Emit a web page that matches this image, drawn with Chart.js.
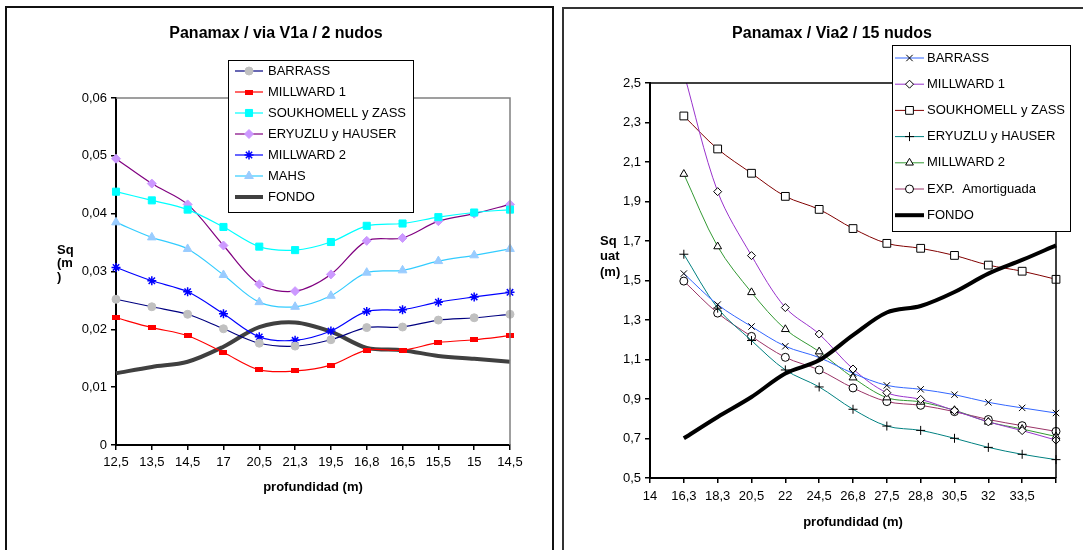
<!DOCTYPE html>
<html lang="es">
<head>
<meta charset="UTF-8">
<title>Panamax - squat</title>
<script src="https://cdn.jsdelivr.net/npm/chart.js"></script>
<style>
    body { margin: 0; background: #fff; width: 1083px; height: 550px; overflow: hidden; position: relative; }
    .panel { position: absolute; border: 2px solid #111; box-sizing: border-box; }
    #leftPanel { left: 5px; top: 6px; width: 549px; height: 600px; }
    #rightPanel { left: 562px; top: 7px; width: 600px; height: 600px; border-color: #333; }
    canvas { position: absolute; top: 0; }
    #leftChart { left: 0; }
    #rightChart { left: 560px; }
</style>
</head>
<body>
<div class="panel" id="leftPanel"></div>
<div class="panel" id="rightPanel"></div>
<canvas id="leftChart" width="556" height="550"></canvas>
<canvas id="rightChart" width="523" height="550"></canvas>

<script>
// ---- left chart: via V1a / 2 nudos ----
const leftLabels = ['12,5', '13,5', '14,5', '17', '20,5', '21,3', '19,5', '16,8', '16,5', '15,5', '15', '14,5'];
const leftYTicks = ['0', '0,01', '0,02', '0,03', '0,04', '0,05', '0,06'];
const lBarrass    = [0.0252, 0.0239, 0.0226, 0.0201, 0.0176, 0.0171, 0.0182, 0.0203, 0.0204, 0.0216, 0.0220, 0.0226];
const lMillward1  = [0.0220, 0.0203, 0.0189, 0.0160, 0.0130, 0.0128, 0.0138, 0.0164, 0.0164, 0.0177, 0.0182, 0.0189];
const lSoukhomell = [0.0438, 0.0423, 0.0407, 0.0377, 0.0343, 0.0337, 0.0351, 0.0379, 0.0383, 0.0394, 0.0402, 0.0407];
const lEryuzlu    = [0.0495, 0.0452, 0.0416, 0.0345, 0.0278, 0.0266, 0.0295, 0.0353, 0.0358, 0.0387, 0.0400, 0.0416];
const lMillward2  = [0.0307, 0.0284, 0.0265, 0.0227, 0.0187, 0.0181, 0.0197, 0.0231, 0.0234, 0.0247, 0.0256, 0.0264];
const lMahs       = [0.0385, 0.0359, 0.0339, 0.0294, 0.0247, 0.0239, 0.0258, 0.0298, 0.0302, 0.0318, 0.0328, 0.0339];
const lFondo      = [0.0124, 0.0135, 0.0144, 0.0170, 0.0204, 0.0212, 0.0196, 0.0168, 0.0164, 0.0154, 0.0149, 0.0144];

// ---- right chart: Via2 / 15 nudos ----
const rightLabels = ['14', '16,3', '18,3', '20,5', '22', '24,5', '26,8', '27,5', '28,8', '30,5', '32', '33,5', ''];
const rightYTicks = ['0,5', '0,7', '0,9', '1,1', '1,3', '1,5', '1,7', '1,9', '2,1', '2,3', '2,5'];
const rBarrass    = [null, 1.535, 1.378, 1.267, 1.167, 1.110, 1.030, 0.969, 0.949, 0.922, 0.883, 0.855, 0.829];
const rMillward1  = [null, 2.550, 1.950, 1.626, 1.363, 1.229, 1.052, 0.932, 0.898, 0.841, 0.784, 0.740, 0.692];
const rSoukhomell = [null, 2.333, 2.166, 2.043, 1.926, 1.860, 1.763, 1.688, 1.663, 1.627, 1.578, 1.547, 1.506];
const rEryuzlu    = [null, 1.633, 1.360, 1.196, 1.047, 0.961, 0.848, 0.763, 0.741, 0.701, 0.655, 0.620, 0.593];
const rMillward2  = [null, 2.039, 1.672, 1.440, 1.253, 1.140, 1.008, 0.907, 0.885, 0.843, 0.784, 0.748, 0.710];
const rExp        = [null, 1.497, 1.335, 1.217, 1.111, 1.047, 0.956, 0.887, 0.868, 0.836, 0.796, 0.765, 0.736];
const rFondo      = [null, 0.701, 0.809, 0.910, 1.029, 1.096, 1.223, 1.338, 1.371, 1.442, 1.535, 1.604, 1.678];

const FONT = '"Liberation Sans", Arial, sans-serif';

// small red bar used as marker for MILLWARD 1 (left chart)
const redBar = document.createElement('canvas');
redBar.width = 8; redBar.height = 5;
const rb = redBar.getContext('2d');
rb.fillStyle = '#ff0000';
rb.fillRect(0, 0, 8, 5);

function ds(label, data, color, width, style, radius, fill, border, extra) {
    return Object.assign({
        label: label,
        data: data,
        borderColor: color,
        borderWidth: width,
        pointStyle: style,
        pointRadius: radius,
        pointHoverRadius: radius,
        pointBackgroundColor: fill,
        pointBorderColor: border,
        pointBorderWidth: 1,
        tension: 0.33,
        spanGaps: false
    }, extra || {});
}

// titles, axis titles, frame and legend box
const decoPlugin = {
    id: 'deco',
    afterDraw(chart, args, o) {
        const ctx = chart.ctx;
        const a = chart.chartArea;
        ctx.save();
        // top + right frame of plot area
        ctx.strokeStyle = o.frameColor;
        ctx.lineWidth = 1.5;
        ctx.beginPath();
        ctx.moveTo(a.left, a.top);
        ctx.lineTo(a.right, a.top);
        ctx.lineTo(a.right, a.bottom);
        ctx.stroke();

        ctx.fillStyle = '#000';
        ctx.textAlign = 'center';
        ctx.textBaseline = 'middle';
        ctx.font = 'bold 16px ' + FONT;
        ctx.fillText(o.title, o.titleX, o.titleY);
        ctx.font = 'bold 13px ' + FONT;
        ctx.fillText('profundidad (m)', (a.left + a.right) / 2, o.xTitleY);
        ctx.textAlign = 'left';
        o.yTitle.forEach((t, i) => ctx.fillText(t, o.yTitleX, o.yTitleY + i * o.yTitleStep));

        // legend
        const L = o.legend;
        ctx.fillStyle = '#fff';
        ctx.fillRect(L.x, L.y, L.w, L.h);
        ctx.strokeStyle = '#000';
        ctx.lineWidth = 1;
        ctx.strokeRect(L.x + 0.5, L.y + 0.5, L.w, L.h);
        ctx.font = '13px ' + FONT;
        chart.data.datasets.forEach((d, i) => {
            const y = L.y + L.first + i * L.step;
            ctx.strokeStyle = d.borderColor;
            ctx.lineWidth = d.borderWidth;
            ctx.beginPath();
            ctx.moveTo(L.x + L.line0, y);
            ctx.lineTo(L.x + L.line1, y);
            ctx.stroke();
            if (d.pointRadius > 0) {
                ctx.fillStyle = d.pointBackgroundColor;
                ctx.strokeStyle = d.pointBorderColor;
                ctx.lineWidth = d.pointBorderWidth;
                Chart.helpers.drawPoint(ctx, {
                    pointStyle: d.pointStyle, radius: d.pointRadius,
                    borderWidth: d.pointBorderWidth, rotation: 0
                }, L.x + (L.line0 + L.line1) / 2, y);
            }
            ctx.fillStyle = '#000';
            ctx.fillText(d.label, L.x + L.textX, y);
        });
        ctx.restore();
    }
};

function axes(xLabels, yTicks, yMin, yMax, step, yWidth, xHeight, yPad, xPad) {
    const tickFont = { family: FONT, size: 13 };
    return {
        x: {
            type: 'category',
            labels: xLabels,
            offset: false,
            afterFit: s => { s.height = xHeight; },
            grid: { drawOnChartArea: false, tickLength: 5, color: '#000', lineWidth: 1.5 },
            border: { color: '#000', width: 2 },
            ticks: { font: tickFont, color: '#000', padding: xPad, maxRotation: 0, autoSkip: false }
        },
        y: {
            min: yMin,
            max: yMax,
            afterFit: s => { s.width = yWidth; },
            grid: { drawOnChartArea: false, tickLength: 5, color: '#000', lineWidth: 1.5 },
            border: { color: '#000', width: 2 },
            ticks: {
                stepSize: step, font: tickFont, color: '#000', padding: yPad,
                callback: (v, i) => yTicks[i]
            }
        }
    };
}

const noClip = false;

new Chart(document.getElementById('leftChart'), {
    type: 'line',
    data: {
        labels: leftLabels,
        datasets: [
            ds('BARRASS', lBarrass, '#000080', 1.2, 'circle', 4, '#c0c0c0', '#c0c0c0', { clip: noClip }),
            ds('MILLWARD 1', lMillward1, '#ff0000', 1.2, redBar, 4, '#ff0000', '#ff0000', { clip: noClip }),
            ds('SOUKHOMELL y ZASS', lSoukhomell, '#00ffff', 1.2, 'rect', 5, '#00ffff', '#00ffff', { clip: noClip }),
            ds('ERYUZLU y HAUSER', lEryuzlu, '#800080', 1.2, 'rectRot', 4.5, '#cc99ff', '#cc99ff', { clip: noClip }),
            ds('MILLWARD 2', lMillward2, '#0000ff', 1.2, 'star', 4.5, '#0000ff', '#0000ff', { clip: noClip, pointBorderWidth: 1.5 }),
            ds('MAHS', lMahs, '#33ccff', 1.2, 'triangle', 5, '#99ccff', '#99ccff', { clip: noClip }),
            ds('FONDO', lFondo, '#404040', 4, 'circle', 0, '#404040', '#404040', { clip: noClip })
        ]
    },
    options: {
        responsive: false,
        animation: false,
        layout: { padding: { left: 0, top: 98, right: 46, bottom: 0 } },
        scales: axes(leftLabels, leftYTicks, 0, 0.06, 0.01, 116, 105, 4, 5),
        plugins: {
            legend: { display: false },
            tooltip: { enabled: false },
            deco: {
                frameColor: '#808080',
                title: 'Panamax / via V1a / 2 nudos', titleX: 276, titleY: 34,
                xTitleY: 487,
                yTitle: ['Sq', '(m', ')'], yTitleX: 57, yTitleY: 250, yTitleStep: 13.5,
                legend: { x: 228, y: 60, w: 185, h: 152, first: 11, step: 21, line0: 7, line1: 35, textX: 40 }
            }
        }
    },
    plugins: [decoPlugin]
});

const rClip = { left: 10, right: 10, top: 0, bottom: 10 };

new Chart(document.getElementById('rightChart'), {
    type: 'line',
    data: {
        labels: rightLabels,
        datasets: [
            ds('BARRASS', rBarrass, '#3366ff', 1, 'crossRot', 4.5, '#fff', '#000', { clip: rClip }),
            ds('MILLWARD 1', rMillward1, '#9933cc', 1, 'rectRot', 4, '#fff', '#000', { clip: rClip }),
            ds('SOUKHOMELL y ZASS', rSoukhomell, '#800000', 1, 'rect', 5.5, '#fff', '#000', { clip: rClip }),
            ds('ERYUZLU y HAUSER', rEryuzlu, '#008080', 1, 'cross', 4.5, '#fff', '#000', { clip: rClip }),
            ds('MILLWARD 2', rMillward2, '#339933', 1, 'triangle', 4.5, '#fff', '#000', { clip: rClip }),
            ds('EXP.  Amortiguada', rExp, '#993366', 1, 'circle', 4, '#fff', '#000', { clip: rClip }),
            ds('FONDO', rFondo, '#000000', 4, 'circle', 0, '#000', '#000', { clip: rClip, order: -1 })
        ]
    },
    options: {
        responsive: false,
        animation: false,
        layout: { padding: { left: 0, top: 83, right: 27, bottom: 0 } },
        scales: axes(rightLabels, rightYTicks, 0.5, 2.5, 0.2, 90, 72, 4, 6),
        plugins: {
            legend: { display: false },
            tooltip: { enabled: false },
            deco: {
                frameColor: '#000',
                title: 'Panamax / Via2 / 15 nudos', titleX: 272, titleY: 34,
                xTitleY: 522,
                yTitle: ['Sq', 'uat', '(m)'], yTitleX: 40, yTitleY: 241, yTitleStep: 15.6,
                legend: { x: 332, y: 45, w: 178, h: 186, first: 13, step: 26.2, line0: 3, line1: 32, textX: 35 }
            }
        }
    },
    plugins: [decoPlugin]
});
</script>
</body>
</html>
